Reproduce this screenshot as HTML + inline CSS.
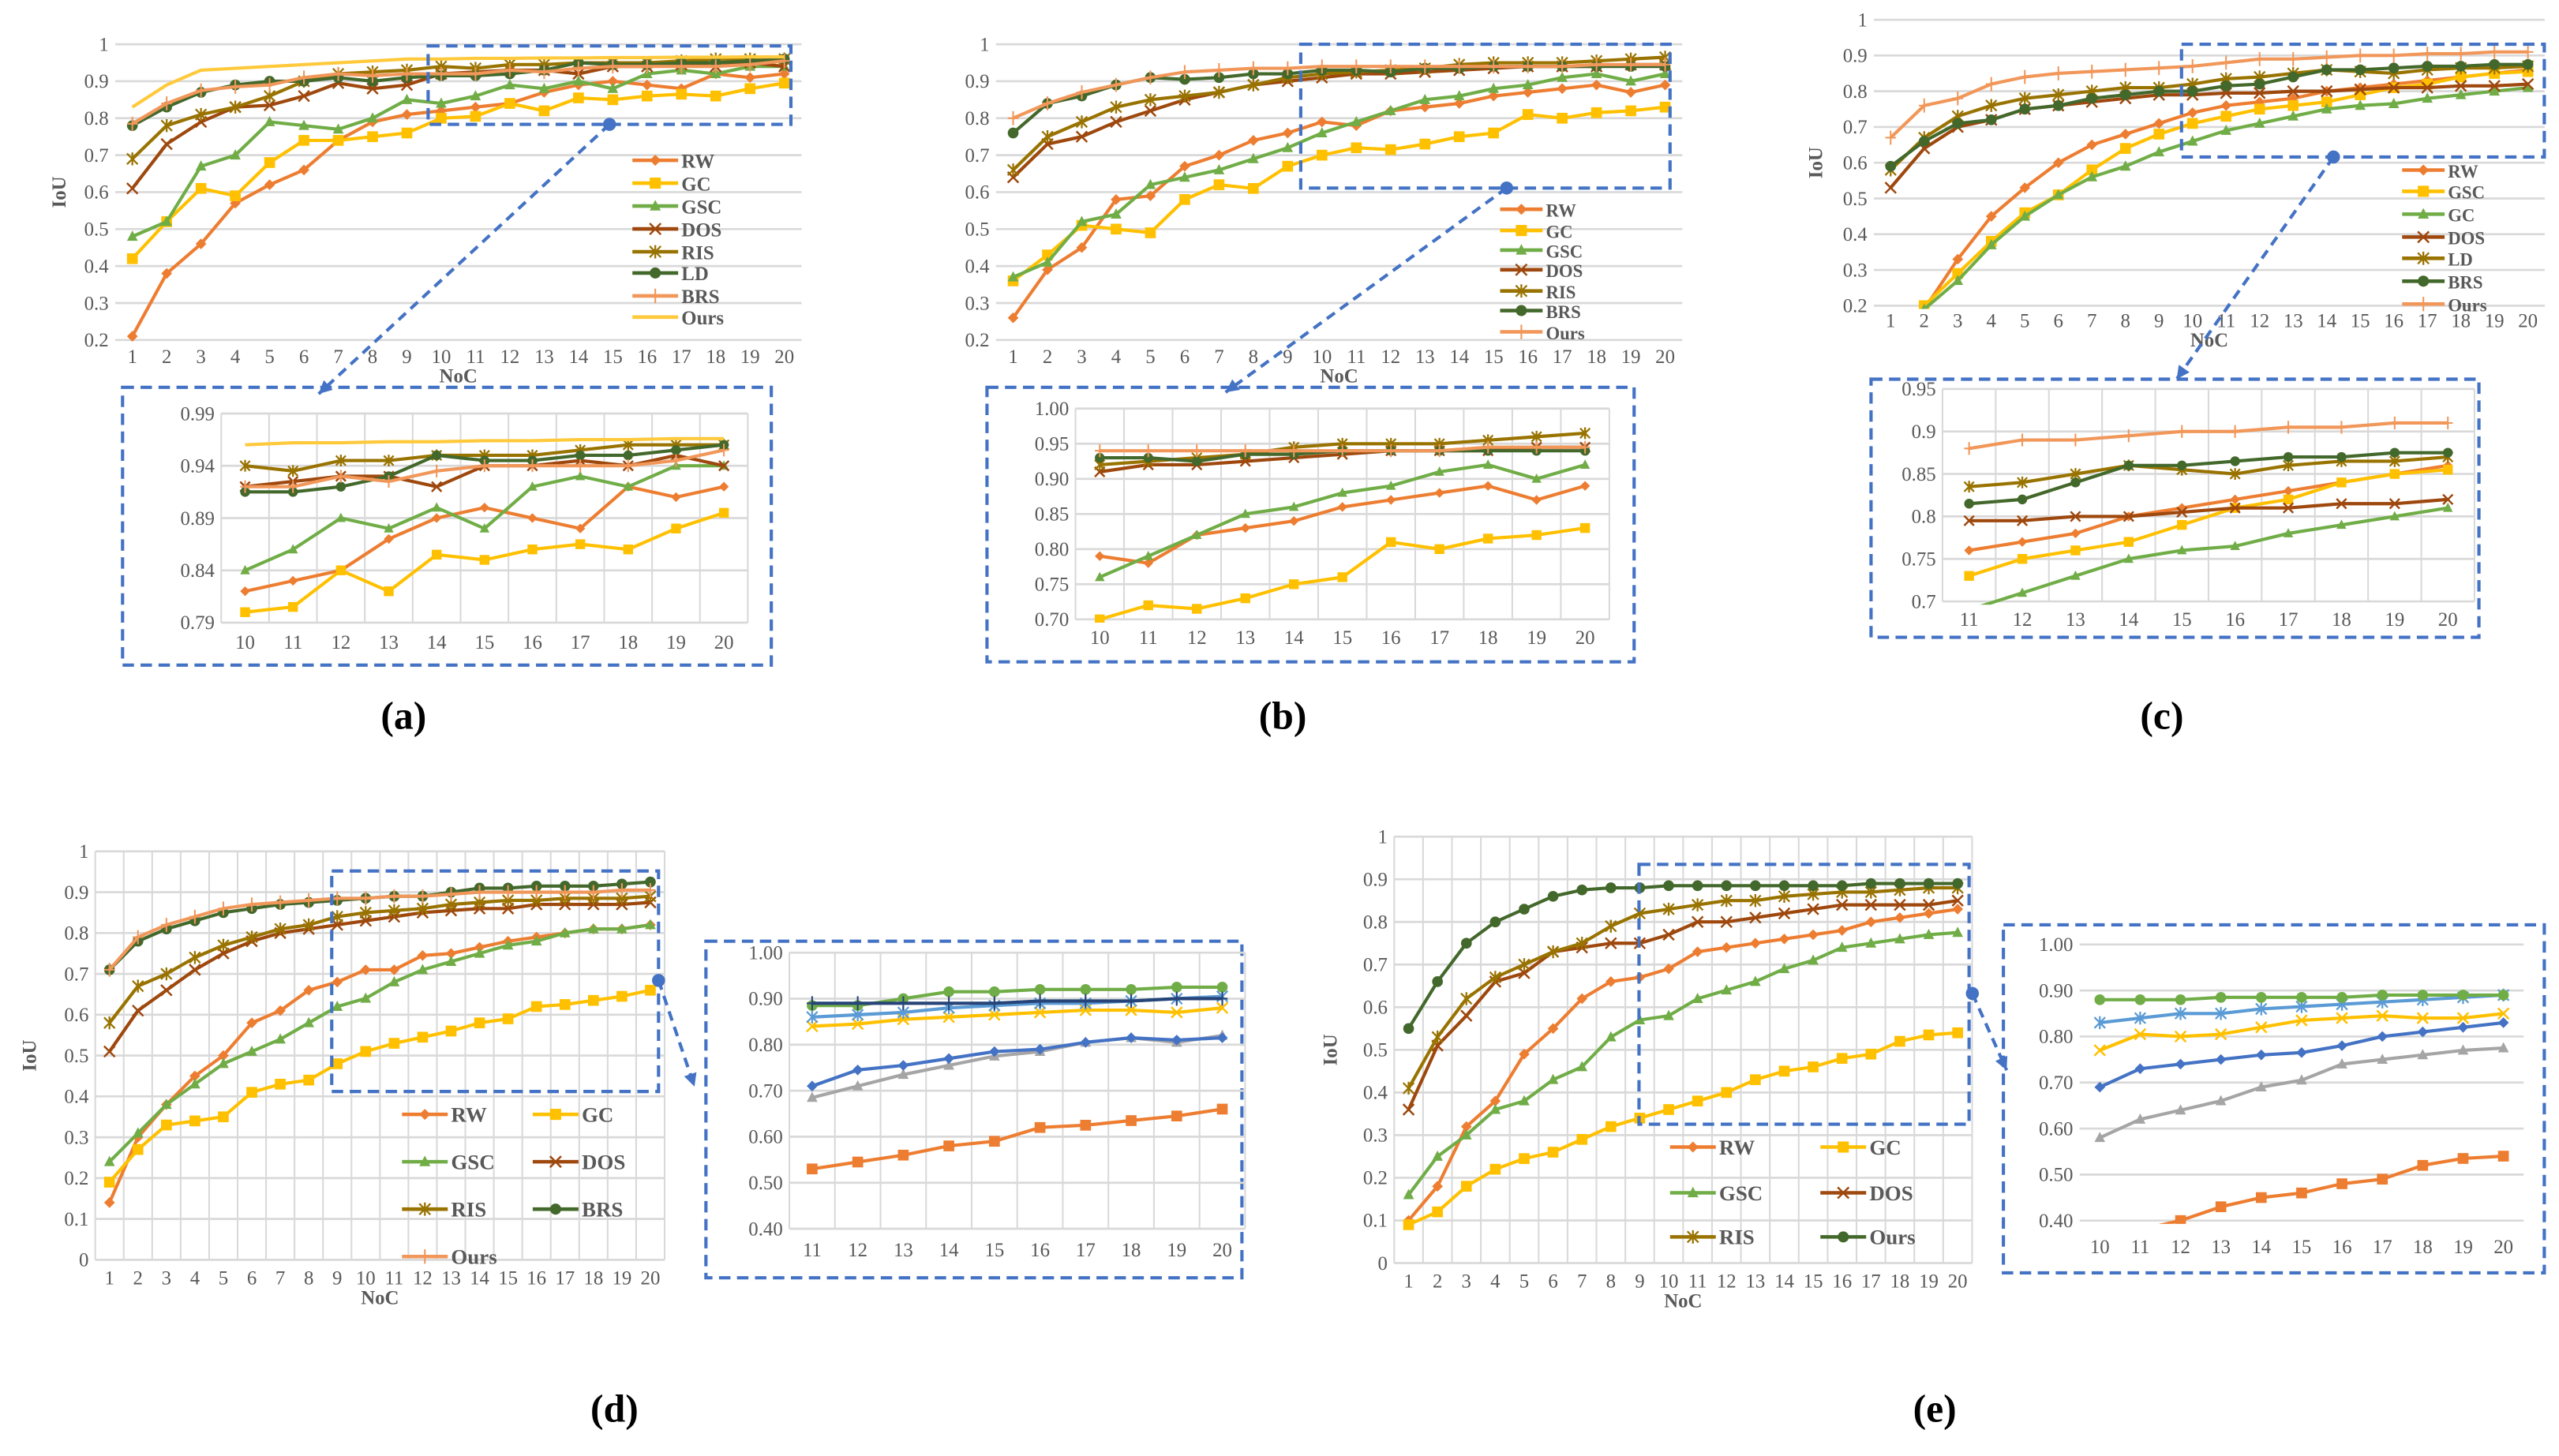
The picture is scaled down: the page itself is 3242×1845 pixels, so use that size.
<!DOCTYPE html>
<html><head><meta charset="utf-8"><style>
html,body{margin:0;padding:0;background:#fff}
svg{display:block}
text{font-family:"Liberation Serif",serif;fill:#595959}
</style></head><body>
<svg id="fig" width="3242" height="1845" viewBox="0 0 1566 891" xmlns="http://www.w3.org/2000/svg"></svg>
<script>
// ---------- data ----------
const nocAll = [1,2,3,4,5,6,7,8,9,10,11,12,13,14,15,16,17,18,19,20];
// panel a
const aRW  = [.21,.38,.46,.57,.62,.66,.74,.79,.81,.82,.83,.84,.87,.89,.90,.89,.88,.92,.91,.92];
const aGC  = [.42,.52,.61,.59,.68,.74,.74,.75,.76,.80,.805,.84,.82,.855,.85,.86,.865,.86,.88,.895];
const aGSC = [.48,.52,.67,.70,.79,.78,.77,.80,.85,.84,.86,.89,.88,.90,.88,.92,.93,.92,.94,.94];
const aDOS = [.61,.73,.79,.83,.835,.86,.895,.88,.89,.92,.925,.93,.93,.92,.94,.94,.945,.94,.95,.94];
const aRIS = [.69,.78,.81,.83,.86,.90,.92,.925,.93,.94,.935,.945,.945,.95,.95,.95,.955,.96,.96,.96];
const aLD  = [.78,.83,.87,.89,.90,.90,.91,.90,.91,.915,.915,.92,.93,.95,.945,.945,.95,.95,.955,.96];
const aBRS = [.785,.84,.875,.885,.89,.91,.92,.915,.92,.92,.92,.93,.925,.935,.94,.94,.94,.94,.945,.955];
const aOurs= [.83,.89,.93,.935,.94,.945,.95,.955,.96,.96,.962,.962,.963,.963,.964,.964,.965,.965,.966,.966];
// panel b
const bRW  = [.26,.39,.45,.58,.59,.67,.70,.74,.76,.79,.78,.82,.83,.84,.86,.87,.88,.89,.87,.89];
const bGC  = [.36,.43,.51,.50,.49,.58,.62,.61,.67,.70,.72,.715,.73,.75,.76,.81,.80,.815,.82,.83];
const bGSC = [.37,.41,.52,.54,.62,.64,.66,.69,.72,.76,.79,.82,.85,.86,.88,.89,.91,.92,.90,.92];
const bDOS = [.64,.73,.75,.79,.82,.85,.87,.89,.90,.91,.92,.92,.925,.93,.935,.94,.94,.94,.945,.945];
const bRIS = [.66,.75,.79,.83,.85,.86,.87,.89,.91,.92,.925,.93,.935,.945,.95,.95,.95,.955,.96,.965];
const bBRS = [.76,.84,.86,.89,.91,.905,.91,.92,.92,.93,.93,.925,.935,.935,.94,.94,.94,.94,.94,.94];
const bOurs= [.80,.84,.87,.89,.91,.925,.93,.935,.935,.94,.94,.94,.94,.94,.94,.94,.94,.945,.945,.945];
// panel c
const cRW  = [.10,.19,.33,.45,.53,.60,.65,.68,.71,.74,.76,.77,.78,.80,.81,.82,.83,.84,.85,.86];
const cGSC = [.10,.20,.29,.38,.46,.51,.58,.64,.68,.71,.73,.75,.76,.77,.79,.81,.82,.84,.85,.855];
const cGC  = [.10,.19,.27,.37,.45,.51,.56,.59,.63,.66,.69,.71,.73,.75,.76,.765,.78,.79,.80,.81];
const cDOS = [.53,.64,.70,.72,.75,.76,.77,.78,.79,.79,.795,.795,.80,.80,.805,.81,.81,.815,.815,.82];
const cLD  = [.58,.67,.73,.76,.78,.79,.80,.81,.81,.82,.835,.84,.85,.86,.855,.85,.86,.865,.865,.87];
const cBRS = [.59,.66,.71,.72,.75,.76,.78,.79,.80,.80,.815,.82,.84,.86,.86,.865,.87,.87,.875,.875];
const cOurs= [.67,.76,.78,.82,.84,.85,.855,.86,.865,.87,.88,.89,.89,.895,.90,.90,.905,.905,.91,.91];
// panel d
const dRW  = [.14,.30,.38,.45,.50,.58,.61,.66,.68,.71,.71,.745,.75,.765,.78,.79,.80,.81,.81,.82];
const dGC  = [.19,.27,.33,.34,.35,.41,.43,.44,.48,.51,.53,.545,.56,.58,.59,.62,.625,.635,.645,.66];
const dGSC = [.24,.31,.38,.43,.48,.51,.54,.58,.62,.64,.68,.71,.73,.75,.77,.78,.80,.81,.81,.82];
const dDOS = [.51,.61,.66,.71,.75,.78,.80,.81,.82,.83,.84,.85,.855,.86,.86,.87,.87,.87,.87,.875];
const dRIS = [.58,.67,.70,.74,.77,.79,.81,.82,.84,.85,.855,.86,.87,.875,.88,.88,.885,.885,.885,.89];
const dBRS = [.71,.78,.81,.83,.85,.86,.87,.875,.88,.885,.89,.89,.90,.91,.91,.915,.915,.915,.92,.925];
const dOurs= [.71,.79,.82,.84,.86,.87,.875,.88,.885,.885,.89,.89,.895,.90,.90,.90,.90,.90,.905,.905];
const nocD = [11,12,13,14,15,16,17,18,19,20];
const diGreen = [.885,.885,.90,.915,.915,.92,.92,.92,.925,.925];
const diNavy  = [.89,.89,.89,.89,.89,.895,.895,.895,.90,.90];
const diLBlue = [.86,.865,.87,.88,.885,.89,.89,.895,.90,.905];
const diYel   = [.84,.845,.855,.86,.865,.87,.875,.875,.87,.88];
const diBlue  = [.71,.745,.755,.77,.785,.79,.805,.815,.81,.815];
const diGray  = [.685,.71,.735,.755,.775,.785,.805,.815,.805,.82];
const diOrg   = [.53,.545,.56,.58,.59,.62,.625,.635,.645,.66];
// panel e
const eRW  = [.10,.18,.32,.38,.49,.55,.62,.66,.67,.69,.73,.74,.75,.76,.77,.78,.80,.81,.82,.83];
const eGC  = [.09,.12,.18,.22,.245,.26,.29,.32,.34,.36,.38,.40,.43,.45,.46,.48,.49,.52,.535,.54];
const eGSC = [.16,.25,.30,.36,.38,.43,.46,.53,.57,.58,.62,.64,.66,.69,.71,.74,.75,.76,.77,.775];
const eDOS = [.36,.51,.58,.66,.68,.73,.74,.75,.75,.77,.80,.80,.81,.82,.83,.84,.84,.84,.84,.85];
const eRIS = [.41,.53,.62,.67,.70,.73,.75,.79,.82,.83,.84,.85,.85,.86,.865,.87,.87,.875,.88,.88];
const eOurs= [.55,.66,.75,.80,.83,.86,.875,.88,.88,.885,.885,.885,.885,.885,.885,.885,.89,.89,.89,.89];
const nocE = [10,11,12,13,14,15,16,17,18,19,20];
const eiGreen = [.88,.88,.88,.885,.885,.885,.885,.89,.89,.89,.89];
const eiLBlue = [.83,.84,.85,.85,.86,.865,.87,.875,.88,.885,.89];
const eiYel   = [.77,.805,.80,.805,.82,.835,.84,.845,.84,.84,.85];
const eiBlue  = [.69,.73,.74,.75,.76,.765,.78,.80,.81,.82,.83];
const eiGray  = [.58,.62,.64,.66,.69,.705,.74,.75,.76,.77,.775];
const eiOrg   = [.36,.38,.40,.43,.45,.46,.48,.49,.52,.535,.54];
// tick labels
const ticksA = [.2,.3,.4,.5,.6,.7,.8,.9,1];
const ticksAi = [.79,.84,.89,.94,.99];
const ticksBi = [.70,.75,.80,.85,.90,.95,1.00];
const ticksCi = [.7,.75,.8,.85,.9,.95];
const ticks01 = [0,.1,.2,.3,.4,.5,.6,.7,.8,.9,1];
const ticksDi = [.4,.5,.6,.7,.8,.9,1.0];

// ---------- drawing ----------
const NS='http://www.w3.org/2000/svg';
const svg=document.getElementById('fig');
function mk(tag,attrs,parent){const e=document.createElementNS(NS,tag);for(const k in attrs)e.setAttribute(k,attrs[k]);(parent||svg).appendChild(e);return e;}
const C={RW:'#ED7D31',GC:'#FFC000',GSC:'#70AD47',DOS:'#9E480E',RIS:'#997300',LD:'#43682B',BRS:'#F1975A',Ours:'#FFC93C',
 green:'#70AD47',navy:'#264478',lblue:'#5B9BD5',yel:'#FFC000',blue:'#4472C4',gray:'#A5A5A5',org:'#ED7D31',dgreen:'#43682B'};
let clipId=0;
function marker(g,type,x,y,col,s){
  if(type==='diamond')mk('polygon',{points:`${x},${y-s} ${x+s},${y} ${x},${y+s} ${x-s},${y}`,fill:col},g);
  else if(type==='square')mk('rect',{x:x-s,y:y-s,width:2*s,height:2*s,fill:col},g);
  else if(type==='tri')mk('polygon',{points:`${x},${y-s*1.1} ${x+s},${y+s*0.8} ${x-s},${y+s*0.8}`,fill:col},g);
  else if(type==='circle')mk('circle',{cx:x,cy:y,r:s,fill:col},g);
  else if(type==='x'){mk('path',{d:`M${x-s},${y-s}L${x+s},${y+s}M${x-s},${y+s}L${x+s},${y-s}`,stroke:col,'stroke-width':1.2,fill:'none'},g);}
  else if(type==='star'){mk('path',{d:`M${x-s},${y-s}L${x+s},${y+s}M${x-s},${y+s}L${x+s},${y-s}M${x},${y-s*1.2}L${x},${y+s*1.2}`,stroke:col,'stroke-width':1.1,fill:'none'},g);}
  else if(type==='plus'){mk('path',{d:`M${x-s},${y}L${x+s},${y}M${x},${y-s*1.3}L${x},${y+s*1.3}`,stroke:col,'stroke-width':1,fill:'none'},g);}
}
function chart(cfg){
  const g=mk('g',{});
  
  
  const xs=cfg.x, n=xs.length;
  const sx=v=>cfg.x0+(v-xs[0])/(xs[n-1]-xs[0])*(cfg.x1-cfg.x0);
  const sy=v=>cfg.yb+(v-cfg.ymin)/(cfg.ymax-cfg.ymin)*(cfg.yt-cfg.yb);
  const step=(cfg.x1-cfg.x0)/(n-1);
  const L=cfg.x0-step*(cfg.pad||0.5), R=cfg.x1+step*(cfg.pad||0.5);
  // grid
  cfg.ticks.forEach(t=>{const y=sy(t);mk('line',{x1:L,x2:R,y1:y,y2:y,stroke:'#d9d9d9','stroke-width':1.3},g);
    const tx=mk('text',{x:L-4,y:y+4,'text-anchor':'end','font-size':cfg.fs||12},g);tx.textContent=cfg.fmt?cfg.fmt(t):String(t);
    });
  if(cfg.vgrid){for(let i=0;i<=n;i++){const x=L+i*step;mk('line',{x1:x,x2:x,y1:sy(cfg.ticks[cfg.ticks.length-1]),y2:sy(cfg.ticks[0]),stroke:'#d9d9d9','stroke-width':1},g);}}
  xs.forEach(v=>{const t=mk('text',{x:sx(v),y:sy(cfg.ticks[0])+(cfg.xlo||15),'text-anchor':'middle','font-size':cfg.fs||12},g);t.textContent=v;
    });
  if(cfg.xtitle){const t=mk('text',{x:(L+R)/2,y:sy(cfg.ticks[0])+(cfg.xlo||15)+12,'text-anchor':'middle','font-size':12,'font-weight':'bold'},g);t.textContent='NoC';
    }
  if(cfg.ytitle){const yy=(sy(cfg.ticks[0])+sy(cfg.ticks[cfg.ticks.length-1]))/2;const t=mk('text',{x:cfg.ytx,y:yy,'text-anchor':'middle','font-size':12,'font-weight':'bold',transform:`rotate(-90 ${cfg.ytx} ${yy})`},g);t.textContent='IoU';
    }
  // clip
  const id='cl'+(clipId++);const cp=mk('clipPath',{id:id},g);
  mk('rect',{x:L-10,y:Math.min(sy(cfg.ymax),sy(cfg.ymin))-6,width:R-L+20,height:Math.abs(sy(cfg.ymax)-sy(cfg.ymin))+8},cp);
  const sg=mk('g',{'clip-path':`url(#${id})`},g);
  cfg.series.forEach(s=>{
    const pg=mk('g',{},sg);
    
    
    const pts=s.v.map((v,i)=>sx(xs[i])+','+sy(v)).join(' ');
    mk('polyline',{points:pts,fill:'none',stroke:s.c,'stroke-width':cfg.lw||2,'stroke-linejoin':'round'},pg);
    if(s.m)s.v.forEach((v,i)=>marker(pg,s.m,sx(xs[i]),sy(v),s.c,cfg.ms||3.3));
  });
  return g;
}
function legend(items,pos,fs,gapLine){
  items.forEach((it,i)=>{
    const p=pos[i];
    const g=mk('g',{});
    
    
    mk('line',{x1:p[0],x2:p[0]+gapLine,y1:p[1],y2:p[1],stroke:it.c,'stroke-width':2.2},g);
    if(it.m)marker(g,it.m,p[0]+gapLine/2,p[1],it.c,3.4);
    const t=mk('text',{x:p[0]+gapLine+2,y:p[1]+4.5,'font-size':fs,'font-weight':'bold'},g);t.textContent=it.n;
  });
}
function dbox(x,y,w,h,name){const r=mk('rect',{x:x,y:y,width:w,height:h,fill:'none',stroke:'#4472C4','stroke-width':2,'stroke-dasharray':'7,4'});
  }
function arrow(x1,y1,x2,y2,name){const g=mk('g',{});
  mk('line',{x1:x1,y1:y1,x2:x2,y2:y2,stroke:'#4472C4','stroke-width':2,'stroke-dasharray':'6,4'},g);
  mk('circle',{cx:x1,cy:y1,r:4,fill:'#4472C4'},g);
  const a=Math.atan2(y2-y1,x2-x1),s=8;
  mk('polygon',{points:`${x2},${y2} ${x2-s*Math.cos(a)+s*0.5*Math.sin(a)},${y2-s*Math.sin(a)-s*0.5*Math.cos(a)} ${x2-s*Math.cos(a)-s*0.5*Math.sin(a)},${y2-s*Math.sin(a)+s*0.5*Math.cos(a)}`,fill:'#4472C4'},g);}
function plabel(x,y,s){const t=mk('text',{x:x,y:y,'text-anchor':'middle','font-size':24,'font-weight':'bold',style:'fill:#000'});t.textContent=s;
  }
const sl=(arr,k)=>arr.slice(k);
const f2=t=>t.toFixed(2);

// ===== panel a =====
chart({name:'chart-a-main',x:nocAll,x0:81,x1:480,yb:208,yt:27,ymin:.2,ymax:1,ticks:ticksA,ytitle:true,ytx:40,xtitle:true,xlo:14,
 series:[{n:'RW',v:aRW,c:C.RW,m:'diamond'},{n:'GC',v:aGC,c:C.GC,m:'square'},{n:'GSC',v:aGSC,c:C.GSC,m:'tri'},{n:'DOS',v:aDOS,c:C.DOS,m:'x'},
 {n:'RIS',v:aRIS,c:C.RIS,m:'star'},{n:'LD',v:aLD,c:C.LD,m:'circle'},{n:'BRS',v:aBRS,c:C.BRS,m:'plus'},{n:'Ours',v:aOurs,c:C.Ours}]});
legend([{n:'RW',c:C.RW,m:'diamond'},{n:'GC',c:C.GC,m:'square'},{n:'GSC',c:C.GSC,m:'tri'},{n:'DOS',c:C.DOS,m:'x'},{n:'RIS',c:C.RIS,m:'star'},{n:'LD',c:C.LD,m:'circle'},{n:'BRS',c:C.BRS,m:'plus'},{n:'Ours',c:C.Ours}],
 [[387,98],[387,112],[387,126],[387,140],[387,154],[387,167],[387,181],[387,194]],12,28);
dbox(262,28,222,48,'zoom-box-a');
arrow(373,76,195,241,'zoom-arrow-a');
dbox(75,237,397,170,'inset-frame-a');
chart({name:'chart-a-inset',x:nocAll.slice(9),x0:150,x1:443,yb:381,yt:253,ymin:.79,ymax:.99,ticks:ticksAi,vgrid:true,fmt:f2,xlo:16,fs:12,ms:3,
 series:[{n:'RW',v:sl(aRW,9),c:C.RW,m:'diamond'},{n:'GC',v:sl(aGC,9),c:C.GC,m:'square'},{n:'GSC',v:sl(aGSC,9),c:C.GSC,m:'tri'},{n:'DOS',v:sl(aDOS,9),c:C.DOS,m:'x'},
 {n:'RIS',v:sl(aRIS,9),c:C.RIS,m:'star'},{n:'LD',v:sl(aLD,9),c:C.LD,m:'circle'},{n:'BRS',v:sl(aBRS,9),c:C.BRS,m:'plus'},{n:'Ours',v:sl(aOurs,9),c:C.Ours}]});
plabel(247,446,'(a)');

// ===== panel b =====
chart({name:'chart-b-main',x:nocAll,x0:620,x1:1019,yb:208,yt:27,ymin:.2,ymax:1,ticks:ticksA,xtitle:true,xlo:14,
 series:[{n:'RW',v:bRW,c:C.RW,m:'diamond'},{n:'GC',v:bGC,c:C.GC,m:'square'},{n:'GSC',v:bGSC,c:C.GSC,m:'tri'},{n:'DOS',v:bDOS,c:C.DOS,m:'x'},
 {n:'RIS',v:bRIS,c:C.RIS,m:'star'},{n:'BRS',v:bBRS,c:C.LD,m:'circle'},{n:'Ours',v:bOurs,c:C.BRS,m:'plus'}]});
legend([{n:'RW',c:C.RW,m:'diamond'},{n:'GC',c:C.GC,m:'square'},{n:'GSC',c:C.GSC,m:'tri'},{n:'DOS',c:C.DOS,m:'x'},{n:'RIS',c:C.RIS,m:'star'},{n:'BRS',c:C.LD,m:'circle'},{n:'Ours',c:C.BRS,m:'plus'}],
 [[918,128],[918,141],[918,153],[918,165],[918,178],[918,190],[918,203]],11,26);
dbox(796,27,226,88,'zoom-box-b');
arrow(922,115,750,240,'zoom-arrow-b');
dbox(604,237,396,168,'inset-frame-b');
chart({name:'chart-b-inset',x:nocAll.slice(9),x0:673,x1:970,yb:379,yt:250,ymin:.7,ymax:1,ticks:ticksBi,vgrid:true,fmt:f2,xlo:15,fs:12,ms:3,
 series:[{n:'RW',v:sl(bRW,9),c:C.RW,m:'diamond'},{n:'GC',v:sl(bGC,9),c:C.GC,m:'square'},{n:'GSC',v:sl(bGSC,9),c:C.GSC,m:'tri'},{n:'DOS',v:sl(bDOS,9),c:C.DOS,m:'x'},
 {n:'RIS',v:sl(bRIS,9),c:C.RIS,m:'star'},{n:'BRS',v:sl(bBRS,9),c:C.LD,m:'circle'},{n:'Ours',v:sl(bOurs,9),c:C.BRS,m:'plus'}]});
plabel(785,446,'(b)');

// ===== panel c =====
chart({name:'chart-c-main',x:nocAll,x0:1157,x1:1547,yb:187,yt:12,ymin:.2,ymax:1,ticks:ticksA,ytitle:true,ytx:1115,xtitle:true,xlo:13,
 series:[{n:'RW',v:cRW,c:C.RW,m:'diamond'},{n:'GSC',v:cGSC,c:C.GC,m:'square'},{n:'GC',v:cGC,c:C.GSC,m:'tri'},{n:'DOS',v:cDOS,c:C.DOS,m:'x'},
 {n:'LD',v:cLD,c:C.RIS,m:'star'},{n:'BRS',v:cBRS,c:C.LD,m:'circle'},{n:'Ours',v:cOurs,c:C.BRS,m:'plus'}]});
legend([{n:'RW',c:C.RW,m:'diamond'},{n:'GSC',c:C.GC,m:'square'},{n:'GC',c:C.GSC,m:'tri'},{n:'DOS',c:C.DOS,m:'x'},{n:'LD',c:C.RIS,m:'star'},{n:'BRS',c:C.LD,m:'circle'},{n:'Ours',c:C.BRS,m:'plus'}],
 [[1470,104],[1470,117],[1470,131],[1470,145],[1470,158],[1470,172],[1470,186]],11,26);
dbox(1335,27,222,69,'zoom-box-c');
arrow(1428,96,1332,232,'zoom-arrow-c');
dbox(1145,232,372,158,'inset-frame-c');
chart({name:'chart-c-inset',x:nocAll.slice(10),x0:1205,x1:1498,yb:368,yt:238,ymin:.7,ymax:.95,ticks:ticksCi,vgrid:true,xlo:15,fs:12,ms:3,
 series:[{n:'RW',v:sl(cRW,10),c:C.RW,m:'diamond'},{n:'GSC',v:sl(cGSC,10),c:C.GC,m:'square'},{n:'GC',v:sl(cGC,10),c:C.GSC,m:'tri'},{n:'DOS',v:sl(cDOS,10),c:C.DOS,m:'x'},
 {n:'LD',v:sl(cLD,10),c:C.RIS,m:'star'},{n:'BRS',v:sl(cBRS,10),c:C.LD,m:'circle'},{n:'Ours',v:sl(cOurs,10),c:C.BRS,m:'plus'}]});
plabel(1323,446,'(c)');

// ===== panel d =====
chart({name:'chart-d-main',x:nocAll,x0:67,x1:398,yb:771,yt:521,ymin:0,ymax:1,ticks:ticks01,vgrid:true,ytitle:true,ytx:22,xtitle:true,xlo:15,
 series:[{n:'RW',v:dRW,c:C.RW,m:'diamond'},{n:'GC',v:dGC,c:C.GC,m:'square'},{n:'GSC',v:dGSC,c:C.GSC,m:'tri'},{n:'DOS',v:dDOS,c:C.DOS,m:'x'},
 {n:'RIS',v:dRIS,c:C.RIS,m:'star'},{n:'BRS',v:dBRS,c:C.LD,m:'circle'},{n:'Ours',v:dOurs,c:C.BRS,m:'plus'}]});
legend([{n:'RW',c:C.RW,m:'diamond'},{n:'GC',c:C.GC,m:'square'},{n:'GSC',c:C.GSC,m:'tri'},{n:'DOS',c:C.DOS,m:'x'},{n:'RIS',c:C.RIS,m:'star'},{n:'BRS',c:C.LD,m:'circle'},{n:'Ours',c:C.BRS,m:'plus'}],
 [[246,711],[326,711],[246,740],[326,740],[246,769],[326,769],[246,769+0]].map((p,i)=>i===6?[246,797-28+28*0+0]:p).slice(0,6).concat([[246,769+0]]).map((p,i)=>i<4?[p[0],p[1]-29]:(i<6?[p[0],p[1]-29]:[246,769])),13,28);
dbox(203,533,200,135,'zoom-box-d');
arrow(403,600,425,665,'zoom-arrow-d');
dbox(432,576,328,206,'inset-frame-d');
chart({name:'chart-d-inset',x:nocD,x0:497,x1:748,yb:752,yt:583,ymin:.4,ymax:1,ticks:ticksDi,vgrid:true,fmt:f2,xlo:17,fs:12,ms:3.3,
 series:[{n:'orange',v:diOrg,c:C.org,m:'square'},{n:'gray',v:diGray,c:C.gray,m:'tri'},{n:'blue',v:diBlue,c:C.blue,m:'diamond'},{n:'yellow',v:diYel,c:C.yel,m:'x'},
 {n:'light-blue',v:diLBlue,c:C.lblue,m:'star'},{n:'green',v:diGreen,c:C.green,m:'circle'},{n:'navy',v:diNavy,c:C.navy,m:'plus'}]});
plabel(376,870,'(d)');

// ===== panel e =====
chart({name:'chart-e-main',x:nocAll,x0:862,x1:1198,yb:773,yt:512,ymin:0,ymax:1,ticks:ticks01,vgrid:true,ytitle:true,ytx:818,xtitle:true,xlo:15,
 series:[{n:'RW',v:eRW,c:C.RW,m:'diamond'},{n:'GC',v:eGC,c:C.GC,m:'square'},{n:'GSC',v:eGSC,c:C.GSC,m:'tri'},{n:'DOS',v:eDOS,c:C.DOS,m:'x'},
 {n:'RIS',v:eRIS,c:C.RIS,m:'star'},{n:'Ours',v:eOurs,c:C.LD,m:'circle'}]});
legend([{n:'RW',c:C.RW,m:'diamond'},{n:'GC',c:C.GC,m:'square'},{n:'GSC',c:C.GSC,m:'tri'},{n:'DOS',c:C.DOS,m:'x'},{n:'RIS',c:C.RIS,m:'star'},{n:'Ours',c:C.LD,m:'circle'}],
 [[1022,702],[1114,702],[1022,730],[1114,730],[1022,757],[1114,757]],13,28);
dbox(1003,529,202,159,'zoom-box-e');
arrow(1207,608,1228,655,'zoom-arrow-e');
dbox(1226,566,331,213,'inset-frame-e');
chart({name:'chart-e-inset',x:nocE,x0:1285,x1:1532,yb:747,yt:578,ymin:.4,ymax:1,ticks:ticksDi,fmt:f2,xlo:20,fs:12,ms:3.3,
 series:[{n:'orange',v:eiOrg,c:C.org,m:'square'},{n:'gray',v:eiGray,c:C.gray,m:'tri'},{n:'blue',v:eiBlue,c:C.blue,m:'diamond'},{n:'yellow',v:eiYel,c:C.yel,m:'x'},
 {n:'light-blue',v:eiLBlue,c:C.lblue,m:'star'},{n:'green',v:eiGreen,c:C.green,m:'circle'}]});
plabel(1184,870,'(e)');
</script>
</body></html>
